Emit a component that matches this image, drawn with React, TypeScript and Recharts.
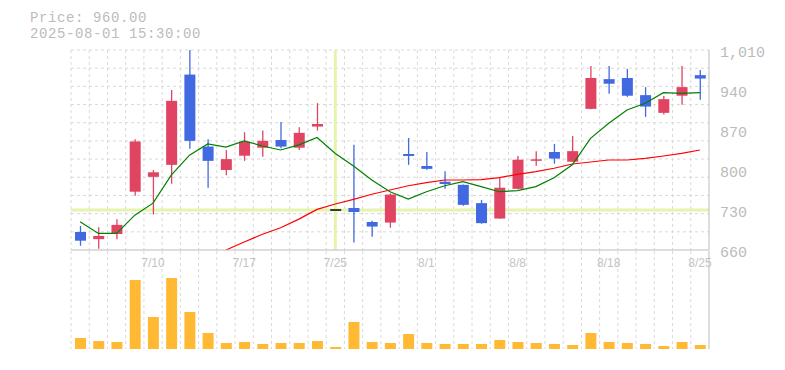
import React from 'react';
import {
  ComposedChart,
  BarChart,
  Bar,
  Line,
  XAxis,
  YAxis,
  CartesianGrid,
  ReferenceLine,
} from 'recharts';

const dates = ["7/4","7/7","7/8","7/9","7/10","7/11","7/14","7/15","7/16","7/17","7/18","7/22","7/23","7/24","7/25","7/28","7/29","7/30","7/31","8/1","8/4","8/5","8/6","8/7","8/8","8/12","8/13","8/14","8/15","8/18","8/19","8/20","8/21","8/22","8/25"];
const opens = [691.5, 679, 688, 762, 788, 809, 967, 841, 800, 825, 839, 852.5, 839, 876, 730, 733.5, 709, 708, 828, 807, 779.5, 774, 742, 715, 767, 816.5, 831.5, 814.5, 907, 959, 961, 931, 900, 930, 966];
const closes = [676.3, 684.5, 704, 850, 796, 921, 851, 816, 819, 849.5, 851, 841, 865, 880.5, 730, 726.5, 701, 757, 824.5, 802, 775.5, 739, 707, 769, 818, 818.7, 820, 833, 961, 951, 930, 911, 924, 945, 960];
const highs = [702, 700, 714, 854, 800, 940, 1013, 854, 835, 866, 869, 884, 875, 917, 730.5, 844, 711, 759, 856, 831.5, 798, 774.5, 747.5, 786.5, 824.5, 833, 845.5, 859.5, 982, 982, 977, 945, 929.5, 982, 975];
const lows = [667.5, 662, 679, 755, 722, 776, 837, 769, 791, 816, 823, 838, 835, 869, 729.5, 673, 683, 699, 809, 800.5, 767, 737.5, 706, 714.5, 766.5, 807.5, 811, 814, 906.5, 933.5, 928, 893, 897, 914, 923];
const volumes = [110, 80, 70, 690, 320, 710, 370, 160, 60, 70, 50, 60, 60, 80, 20, 270, 70, 60, 150, 60, 50, 50, 50, 90, 70, 60, 50, 40, 160, 70, 60, 50, 30, 70, 40];
const ma5 = [709.5, 689, 689, 721, 742, 791, 826, 845.5, 840, 851, 842, 835, 844, 857, 829, 807, 782.5, 762, 749, 762, 772.5, 779.5, 771, 762, 764, 771, 786.5, 809, 855.5, 881.7, 905, 916.7, 935.3, 934, 935.3];
const ma25 = [null, null, null, null, null, null, null, null, 660, 674, 687.5, 699, 714, 731, 740.5, 748.7, 757.5, 765, 772.5, 777.8, 782.5, 782.5, 783, 786.5, 792.5, 797, 803, 810.5, 814, 817.5, 817.5, 820.5, 824.5, 829, 835];
const priceTicks = [660, 730, 800, 870, 940, 1010];
const labelDates = ["7/10", "7/17", "7/25", "8/1", "8/8", "8/18", "8/25"];
const crossDate = "7/25";
const crossPrice = 730;
const titleLines = ["Price: 960.00", "2025-08-01 15:30:00"];

const data = dates.map((d, i) => ({
  date: d,
  open: opens[i],
  close: closes[i],
  high: highs[i],
  low: lows[i],
  range: [lows[i], highs[i]],
  ma5: ma5[i],
  ma25: ma25[i],
  vol: volumes[i],
}));

const UP = '#e04462';
const DOWN = '#4169e1';
const GRID = '#d9d9d9';
const AXIS = '#bbbbbb';
const CROSS = '#e5f4ad';
const MARGIN = { top: 50, right: 0, left: 71, bottom: 0 };

const Candle = (props: any) => {
  const { x, y, width, height, payload } = props;
  if (x == null || y == null) return null;
  const top = Math.min(y, y + height);
  const bot = Math.max(y, y + height);
  const { open, close, high, low } = payload;
  const span = high - low;
  const pix = (v: number) => (span === 0 ? top : top + ((high - v) / span) * (bot - top));
  const color = close > open ? UP : close < open ? DOWN : '#000000';
  const cx = x + width / 2;
  const bTop = pix(Math.max(open, close));
  const bBot = pix(Math.min(open, close));
  const bh = Math.max(1.5, bBot - bTop);
  return (
    <g>
      {open !== close && <line x1={cx} x2={cx} y1={top} y2={bot} stroke={color} strokeWidth={1.3} />}
      <rect x={x} y={open === close ? bTop - 0.75 : bTop} width={width} height={bh} fill={color} />
    </g>
  );
};

const fmt = (v: number) => v.toLocaleString('en-US');

const PriceTick = (props: any) => {
  const { x, y, payload } = props;
  return (
    <text x={x} y={y + 7} fill="#bbbbbb" fontFamily="Liberation Mono" fontSize={15} textAnchor="start">
      {fmt(payload.value)}
    </text>
  );
};

const DateTick = (props: any) => {
  const { x, y, payload } = props;
  if (!labelDates.includes(payload.value)) return <g />;
  return (
    <text x={x} y={y + 16.5} fill="#c4c4c4" fontFamily="Liberation Sans" fontSize={12} textAnchor="middle">
      {payload.value}
    </text>
  );
};

const hGen = ({ offset }: any) => {
  const out: number[] = [];
  for (let k = 0; k < 11; k++) out.push(offset.top + (k * offset.height) / 11);
  return out;
};
const vGen = ({ offset }: any) => {
  const out: number[] = [];
  for (let k = 0; k < dates.length; k++) out.push(offset.left + (k * offset.width) / dates.length);
  return out;
};

export default function App() {
  return (
    <div style={{ position: 'absolute', left: 0, top: 0, width: 785, height: 370, background: '#fff' }}>
      {/* bottom layer: grid + crosshair */}
      <div style={{ position: 'absolute', left: 0, top: 0 }}>
        <ComposedChart width={785} height={370} data={data} margin={MARGIN}>
          <CartesianGrid
            stroke={GRID}
            strokeDasharray="3 3"
            horizontalCoordinatesGenerator={hGen}
            verticalCoordinatesGenerator={vGen}
          />
          <XAxis dataKey="date" height={120} tick={false} tickLine={false} axisLine={false} />
          <YAxis orientation="right" width={76} domain={[660, 1010]} ticks={priceTicks} allowDataOverflow tick={false} tickLine={false} axisLine={false} />
          <ReferenceLine x={crossDate} stroke={CROSS} strokeWidth={3} />
          <ReferenceLine y={crossPrice} stroke={CROSS} strokeWidth={3} />
          <Bar dataKey="range" barSize={11} fill="none" shape={() => <g />} isAnimationActive={false} />
        </ComposedChart>
      </div>
      {/* volume panel */}
      <div style={{ position: 'absolute', left: 0, top: 0 }}>
        <BarChart width={785} height={370} data={data} margin={{ top: 251, right: 0, left: 71, bottom: 21 }}>
          <CartesianGrid stroke={GRID} strokeDasharray="3 3" horizontal={false} verticalCoordinatesGenerator={vGen} />
          <XAxis dataKey="date" height={0} tick={false} tickLine={false} axisLine={{ stroke: AXIS }} />
          <YAxis orientation="right" width={76} domain={[0, 980]} tick={false} tickLine={false} axisLine={{ stroke: AXIS }} />
          <Bar dataKey="vol" barSize={11} fill="#ffb933" isAnimationActive={false} />
        </BarChart>
      </div>
      {/* top layer: axes, MAs, candles */}
      <div style={{ position: 'absolute', left: 0, top: 0 }}>
        <ComposedChart width={785} height={370} data={data} margin={MARGIN}>
          <XAxis
            dataKey="date"
            height={120}
            interval={0}
            tickLine={false}
            tickSize={0}
            tickMargin={0}
            axisLine={{ stroke: AXIS }}
            tick={DateTick}
          />
          <YAxis
            orientation="right"
            width={76}
            domain={[660, 1010]}
            ticks={priceTicks}
            allowDataOverflow
            tickLine={false}
            tickSize={0}
            tickMargin={11}
            axisLine={{ stroke: AXIS }}
            tick={PriceTick}
          />
          <Line dataKey="ma25" stroke="#ff0000" strokeWidth={1.2} dot={false} isAnimationActive={false} type="linear" />
          <Line dataKey="ma5" stroke="#008000" strokeWidth={1.2} dot={false} isAnimationActive={false} type="linear" />
          <Bar dataKey="range" barSize={11} shape={Candle} isAnimationActive={false} />
        </ComposedChart>
      </div>
      <svg width={785} height={50} style={{ position: 'absolute', left: 0, top: 0 }}>
        {titleLines.map((t, i) => (
          <text key={i} x={30} y={22.4 + i * 15.9} fill="#bcbcbc" fontFamily="Liberation Mono" fontSize={14} letterSpacing={0.6}>
            {t}
          </text>
        ))}
      </svg>
    </div>
  );
}
